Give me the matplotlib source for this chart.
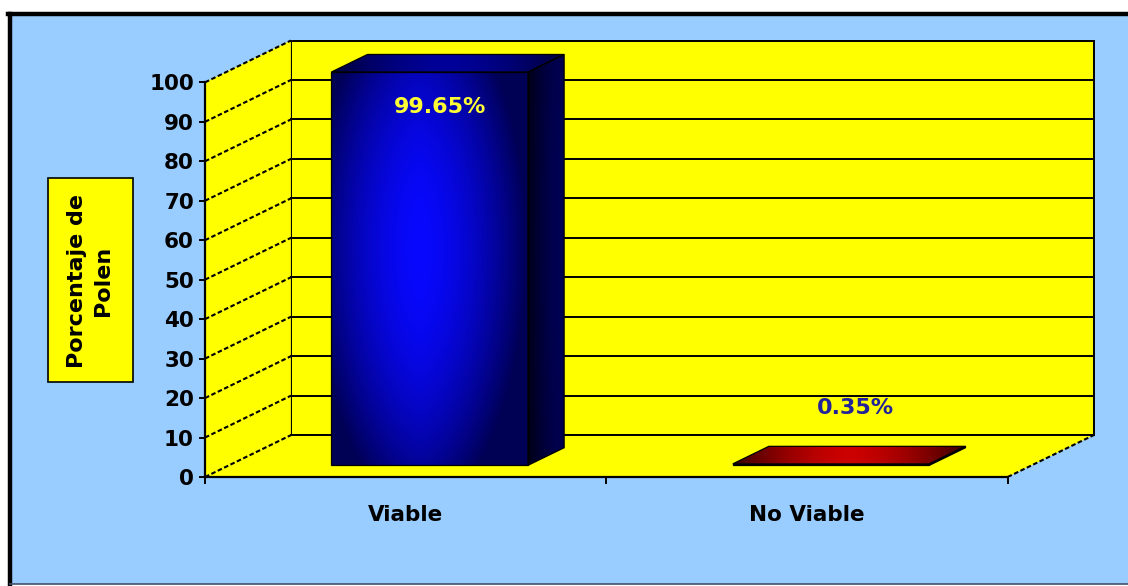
import numpy as np
import matplotlib
matplotlib.use("Agg")
import matplotlib.pyplot as plt
from matplotlib.patches import Polygon, Rectangle
from matplotlib.lines import Line2D

# data
categories = ["Viable", "No Viable"]
values = [99.65, 0.35]
value_labels = ["99.65%", "0.35%"]
yticks = list(range(0, 101, 10))
ylabel = "Porcentaje de\nPolen"

# pseudo 3d geometry (data units)
DX, DY = 0.214, 10.6      # full depth offset
D0, D1 = 0.28, 0.70       # bar depth span
BAR_W = 0.49
YELLOW = "#FFFF00"
SKY = "#99CCFF"

W, H = 1128, 586
fig = plt.figure(figsize=(W / 100, H / 100), dpi=100)
fig.patch.set_facecolor("white")

# chart area background + border
fig.patches.append(Rectangle((10 / W, 2 / H), 1.2, (H - 16) / H, transform=fig.transFigure,
                             facecolor=SKY, edgecolor="none", zorder=-5))
fig.lines.append(Line2D([10 / W, 10 / W], [2 / H, (H - 14) / H], transform=fig.transFigure,
                        color="black", lw=3.2, zorder=-4))
fig.lines.append(Line2D([8 / W, 1.0], [(H - 14) / H, (H - 14) / H], transform=fig.transFigure,
                        color="black", lw=3.2, zorder=-4))
fig.lines.append(Line2D([10 / W, 1.0], [2 / H, 2 / H], transform=fig.transFigure,
                        color="#44506a", lw=1.2, zorder=-4))

ax = fig.add_axes([205 / W, 109 / H, 891 / W, 442 / H])
ax.set_xlim(0, 2 + 0.22)
ax.set_ylim(0, 112)
ax.patch.set_visible(False)
n = len(categories)

# walls and floor
back = Polygon([(DX, DY), (n + DX, DY), (n + DX, 100 + DY), (DX, 100 + DY)], closed=True,
               facecolor=YELLOW, edgecolor="black", lw=1.4, zorder=1)
side = Polygon([(0, 0), (DX, DY), (DX, 100 + DY), (0, 100)], closed=True,
               facecolor=YELLOW, edgecolor="none", zorder=1)
floor = Polygon([(0, 0), (n, 0), (n + DX, DY), (DX, DY)], closed=True,
                facecolor=YELLOW, edgecolor="none", zorder=1)
for p in (back, side, floor):
    ax.add_patch(p)
for v in yticks:
    ax.plot([DX, n + DX], [v + DY, v + DY], color="black", lw=1.4, zorder=2)
    ax.plot([0, DX], [v, v + DY], color="black", lw=1.5, dashes=(2.2, 1.2), zorder=2)
ax.plot([n, n + DX], [0, DY], color="black", lw=1.5, dashes=(2.2, 1.2), zorder=2)


def gradient_face(verts, img, z):
    poly = Polygon(verts, closed=True, facecolor="none", edgecolor="black", lw=0.9, zorder=z + 0.5)
    ax.add_patch(poly)
    xs = [p[0] for p in verts]
    ys = [p[1] for p in verts]
    im = ax.imshow(img, extent=[min(xs), max(xs), min(ys), max(ys)], origin="lower",
                   aspect="auto", interpolation="bilinear", zorder=z)
    im.set_clip_path(poly)


def make_img(c_dark, c_bright, nx=200, ny=200, cx=0.45, vert=0.35, horiz=1.0):
    x = np.linspace(0, 1, nx)
    y = np.linspace(0, 1, ny)
    X, Y = np.meshgrid(x, y)
    t = 1 - horiz * np.clip(np.abs(X - cx) / max(cx, 1 - cx), 0, 1) ** 1.6 \
        - vert * np.abs(Y - 0.55) ** 2 * 4
    t = np.clip(t, 0, 1)[..., None]
    return np.array(c_dark) * (1 - t) + np.array(c_bright) * t


blue_dark = (0.0, 0.0, 0.33)
blue_bright = (0.03, 0.03, 1.0)
red_dark = (0.2, 0.0, 0.0)
red_bright = (0.85, 0.0, 0.0)

for i, v in enumerate(values):
    c = i + 0.5
    xl, xr = c - BAR_W / 2, c + BAR_W / 2
    front = [(xl + D0 * DX, D0 * DY), (xr + D0 * DX, D0 * DY),
             (xr + D0 * DX, v + D0 * DY), (xl + D0 * DX, v + D0 * DY)]
    rside = [(xr + D0 * DX, D0 * DY), (xr + D1 * DX, D1 * DY),
             (xr + D1 * DX, v + D1 * DY), (xr + D0 * DX, v + D0 * DY)]
    top = [(xl + D0 * DX, v + D0 * DY), (xr + D0 * DX, v + D0 * DY),
           (xr + D1 * DX, v + D1 * DY), (xl + D1 * DX, v + D1 * DY)]
    if i == 0:
        dark, bright = blue_dark, blue_bright
    else:
        dark, bright = red_dark, red_bright
    gradient_face(front, make_img(dark, bright, vert=0.5), 4)
    side_img = make_img((0, 0, 0.1) if i == 0 else (0.1, 0, 0),
                        (0.0, 0.0, 0.33) if i == 0 else (0.35, 0, 0),
                        cx=0.9, vert=0.1)
    gradient_face(rside, side_img, 4)
    top_img = make_img((0, 0, 0.22) if i == 0 else (0.22, 0, 0),
                       (0.0, 0.0, 0.6) if i == 0 else (0.8, 0, 0),
                       cx=0.5, vert=0.0)
    gradient_face(top, top_img, 4)

    # value labels
    xm = c + 0.5 * (D0 + D1) * DX
    ym = v + 0.5 * (D0 + D1) * DY
    if v > 50:
        ax.text(xm - 0.02, ym - 11, value_labels[i], color="#FFFF33", fontsize=16,
                fontweight="bold", ha="center", va="center", zorder=6)
    else:
        ax.text(xm + 0.015, ym + 12, value_labels[i], color="#22229A", fontsize=16,
                fontweight="bold", ha="center", va="center", zorder=6)

# axes styling
for s in ("top", "right"):
    ax.spines[s].set_visible(False)
ax.spines["left"].set_bounds(0, 100)
ax.spines["bottom"].set_bounds(0, n)
for s in ("left", "bottom"):
    ax.spines[s].set_linewidth(1.6)
    ax.spines[s].set_zorder(7)
ax.set_yticks(yticks)
ax.set_yticklabels([str(t) for t in yticks], fontsize=15.5, fontweight="bold")
ax.set_xticks(range(n + 1))
ax.set_xticklabels([""] * (n + 1))
ax.set_xticks([i + 0.5 for i in range(n)], minor=True)
ax.set_xticklabels(categories, minor=True, fontsize=15.5, fontweight="bold")
ax.tick_params(axis="y", length=4, width=1.4, pad=4)
ax.tick_params(axis="x", which="major", length=5, width=1.4)
ax.tick_params(axis="x", which="minor", length=0, pad=20)

# y label box
fig.patches.append(Rectangle((48 / W, (H - 382) / H), 85 / W, 204 / H, transform=fig.transFigure,
                             facecolor=YELLOW, edgecolor="black", lw=1.2, zorder=3))
fig.text(90 / W, (H - 281) / H, ylabel, rotation=90, ha="center", va="center",
         multialignment="center", fontsize=16, fontweight="bold", linespacing=1.4, zorder=4)

fig.savefig("out.png", dpi=100)
